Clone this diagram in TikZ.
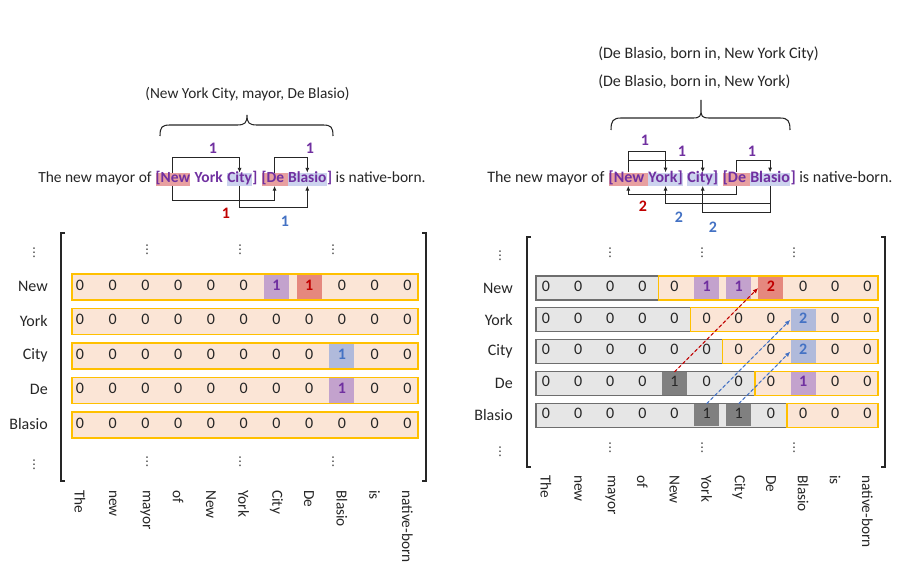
\documentclass[tikz,border=0pt]{standalone}
\usepackage{fontspec}
\setmainfont{Carlito}
\newfontfamily\dejavu{DejaVu Sans}
\usetikzlibrary{arrows.meta}
\definecolor{txt}{HTML}{262626}
\definecolor{entcol}{HTML}{7030A0}
\definecolor{redtxt}{HTML}{C00000}
\definecolor{bluetxt}{HTML}{4472C4}
\definecolor{hlred}{HTML}{E8A0A0}
\definecolor{hlblue}{HTML}{CCD3EE}
\definecolor{orfill}{HTML}{FBE5D6}
\definecolor{gold}{HTML}{FFC000}
\definecolor{grfill}{HTML}{E6E6E6}
\definecolor{grline}{HTML}{6E6E6E}
\definecolor{darkcell}{HTML}{808080}
\definecolor{purcell}{HTML}{C3A2CD}
\definecolor{redcell}{HTML}{E5887E}
\definecolor{bluecell}{HTML}{B0BADB}
\newcommand\mkhl[1]{\expandafter\def\csname #1\endcsname{}}
\newcommand\wsp{\ \null}
\mkhl{hlL-0-6}\mkhl{hlL-0-7}\mkhl{hlL-2-8}\mkhl{hlL-3-8}
\mkhl{hlR-0-5}\mkhl{hlR-0-6}\mkhl{hlR-0-7}\mkhl{hlR-1-8}\mkhl{hlR-2-8}
\mkhl{hlR-3-4}\mkhl{hlR-3-8}\mkhl{hlR-4-5}\mkhl{hlR-4-6}
\begin{document}
\begin{tikzpicture}[x=0.75pt,y=-0.75pt, font=\fontsize{11.5}{14}\selectfont, text=txt,
 sent/.style={anchor=base west, inner sep=0pt, text height=7.8pt, text depth=2pt, font=\fontsize{12}{14}\selectfont},
 sentL/.style={anchor=base west, inner sep=0pt, text height=7.6pt, text depth=2pt, font=\fontsize{11.6}{14}\selectfont},
 ent/.style={text=entcol, font=\fontsize{12}{14}\selectfont\bfseries},
 entL/.style={text=entcol, font=\fontsize{11.6}{14}\selectfont\bfseries},
 conn/.style={draw=txt, line width=0.6pt, -{Latex[length=3.5pt,width=3pt]}},
 num/.style={font=\fontsize{12}{14}\selectfont\bfseries, inner sep=0pt},
 bracestyle/.style={draw=txt, line width=0.8pt},
 bracket/.style={draw=txt, line width=1pt},
 vdot/.style={font=\dejavu\fontsize{9}{10}\selectfont, inner sep=0pt, text=txt},
 lab/.style={anchor=east, inner sep=0pt, font=\fontsize{12}{14}\selectfont},
 collab/.style={rotate=-90, anchor=west, inner sep=0pt},
 cellL/.style={minimum width=18.75pt, minimum height=18.4pt, inner sep=0pt, text height=7.5pt, text depth=2.5pt, font=\fontsize{12}{14}\selectfont},
 cellR/.style={minimum width=18.75pt, minimum height=16.9pt, inner sep=0pt, text height=7.5pt, text depth=2.5pt, font=\fontsize{12}{14}\selectfont},
 hl/.style={font=\fontsize{12}{14}\selectfont\bfseries},
 obox/.style={fill=orfill, draw=gold, line width=1pt},
 gbox/.style={fill=grfill, draw=grline, line width=1pt},
 dash arrow/.style={line width=0.8pt, dash pattern=on 2.5pt off 1.8pt, -{Latex[length=4pt,width=3.5pt]}}
]
\useasboundingbox (0,0) rectangle (905,566);

% ---------------- LEFT: triple, brace, sentence ----------------
\node[anchor=base, inner sep=0pt] (t1) at (247.5,98.5) {(New York City, mayor, De Blasio)};
\draw[bracestyle] (160,136) .. controls (160,127) and (162,125) .. (170,125) -- (237,125)
  .. controls (245,125) and (247,123) .. (247,115)
  .. controls (247,123) and (249,125) .. (257,125) -- (323,125)
  .. controls (331,125) and (333,127) .. (333,136);

\node[sentL] (l0) at (38,183) {The new mayor of\wsp};
\node[sentL, entL, fill=hlred] (lNew) at (l0.base east) {[New};
\node[sentL] (ls1) at (lNew.base east) {\wsp};
\node[sentL, entL] (lYork) at (ls1.base east) {York};
\node[sentL] (ls2) at (lYork.base east) {\wsp};
\node[sentL, entL, fill=hlblue] (lCity) at (ls2.base east) {City};
\node[sentL, entL] (lrb) at (lCity.base east) {]\wsp};
\node[sentL, entL, fill=hlred] (lDe) at (lrb.base east) {[De\wsp};
\node[sentL, entL, fill=hlblue] (lBl) at (lDe.base east) {Blasio};
\node[sentL] (l9) at (lBl.base east) {\textcolor{entcol}{\bfseries ]} is native-born.};

\draw[conn] (lNew.north) -- (lNew.north |- 0,157) -| (lCity.north);
\draw[conn] (lDe.north) -- (lDe.north |- 0,157) -| (lBl.north);
\draw[conn] (lNew.south) -- (lNew.south |- 0,200) -| (lDe.south);
\draw[conn] (lCity.south) -- (lCity.south |- 0,207) -| (lBl.south);
\node[num, text=entcol] (ln1) at (213,148) {1};
\node[num, text=entcol] (ln2) at (310,148) {1};
\node[num, text=redtxt] (ln3) at (226,213) {1};
\node[num, text=bluetxt] (ln4) at (285,221) {1};

% ---------------- RIGHT: triples, brace, sentence ----------------
\node[anchor=base west, inner sep=0pt, font=\fontsize{12}{14}\selectfont] (t2) at (598,58.5) {(De Blasio, born in, New York City)};
\node[anchor=base west, inner sep=0pt, font=\fontsize{12}{14}\selectfont] (t3) at (598,86.5) {(De Blasio, born in, New York)};
\draw[bracestyle] (611,130) .. controls (611,121) and (613,118) .. (621,118) -- (693,118)
  .. controls (700,118) and (701,116) .. (701,110) -- (701,100) -- (701,110)
  .. controls (701,116) and (702,118) .. (709,118) -- (780,118)
  .. controls (788,118) and (790,121) .. (790,130);

\node[sent] (r0) at (487,183) {The new mayor of\wsp};
\node[sent, ent, fill=hlred] (rNew) at (r0.base east) {[New\wsp};
\node[sent, ent, fill=hlblue] (rYork) at (rNew.base east) {York]};
\node[sent] (rs1) at (rYork.base east) {\wsp};
\node[sent, ent, fill=hlblue] (rCity) at (rs1.base east) {City]};
\node[sent] (rs2) at (rCity.base east) {\wsp};
\node[sent, ent, fill=hlred] (rDe) at (rs2.base east) {[De\wsp};
\node[sent, ent, fill=hlblue] (rBl) at (rDe.base east) {Blasio};
\node[sent] (r9) at (rBl.base east) {\textcolor{entcol}{\bfseries ]} is native-born.};

\draw[conn] (rNew.north) -- (rNew.north |- 0,151) -| (rYork.north);
\draw[conn] (rNew.north |- 0,160) -| (rCity.north);
\draw[conn] (rDe.north) -- (rDe.north |- 0,160) -| (rBl.north);
\draw[conn] (rDe.south) -- (rDe.south |- 0,194) -| (rNew.south);
\draw[conn] (rBl.south) -- (rBl.south |- 0,203) -| (rYork.south);
\draw[conn] (rBl.south) -- (rBl.south |- 0,212) -| (rCity.south);
\node[num, text=entcol] (rn1) at (645,140) {1};
\node[num, text=entcol] (rn2) at (682,151) {1};
\node[num, text=entcol] (rn3) at (752,151) {1};
\node[num, text=redtxt] (rn4) at (643,206) {2};
\node[num, text=bluetxt] (rn5) at (679,217) {2};
\node[num, text=bluetxt] (rn6) at (713,227) {2};

% ---------------- LEFT MATRIX ----------------
\draw[bracket] (65,233) -- (61,233) -- (61,481) -- (65,481);
\draw[bracket] (422,233) -- (426,233) -- (426,481) -- (422,481);
\foreach \r/\lab in {0/New,1/York,2/City,3/De,4/Blasio}{
  \pgfmathsetmacro\yy{287+34.5*\r}
  \draw[obox] (72,{\yy-13}) rectangle (418,{\yy+13});
  \node[lab] (LL-\r) at (48,{\yy-1}) {\lab};
  \foreach \c in {0,...,10}{
    \pgfmathsetmacro\xx{80+32.73*\c}
    \ifcsname hlL-\r-\c\endcsname\else
      \node[cellL] (L-\r-\c) at (\xx,\yy) {0};
    \fi
  }
}
\node[cellL, fill=purcell, text=entcol, hl] (L-0-6) at (276.38,287) {1};
\node[cellL, fill=redcell, text=redtxt, hl] (L-0-7) at (309.11,287) {1};
\node[cellL, fill=bluecell, text=bluetxt, hl] (L-2-8) at (341.84,356) {1};
\node[cellL, fill=purcell, text=entcol, hl] (L-3-8) at (341.84,390.5) {1};
\foreach \c/\w in {0/The,1/new,2/mayor,3/of,4/New,5/York,6/City,7/De,8/Blasio,9/is,10/native-born}{
  \node[collab] (LC-\c) at ({80+32.73*\c},490) {\w};
}
\node[vdot] (LDa) at (34,253) {⋮};
\node[vdot] (LDb) at (147,250) {⋮};
\node[vdot] (LDc) at (240,250) {⋮};
\node[vdot] (LDd) at (333,250) {⋮};
\node[vdot] (LDe) at (34,465) {⋮};
\node[vdot] (LDf) at (147,462) {⋮};
\node[vdot] (LDg) at (240,462) {⋮};
\node[vdot] (LDh) at (333,462) {⋮};

% ---------------- RIGHT MATRIX ----------------
\draw[bracket] (531,237) -- (527,237) -- (527,467) -- (531,467);
\draw[bracket] (881,237) -- (885,237) -- (885,467) -- (881,467);
\foreach \r/\lab in {0/New,1/York,2/City,3/De,4/Blasio}{
  \pgfmathsetmacro\yy{288+31.8*\r}
  \pgfmathsetmacro\bb{546+32.13*(3.5+\r)}
  \draw[gbox] (536,{\yy-12}) rectangle (\bb,{\yy+12});
  \draw[obox] (\bb,{\yy-12}) rectangle (878,{\yy+12});
  \node[lab] (RL-\r) at (513,\yy) {\lab};
  \foreach \c in {0,...,10}{
    \pgfmathsetmacro\xx{546+32.13*\c}
    \ifcsname hlR-\r-\c\endcsname\else
      \node[cellR] (R-\r-\c) at (\xx,\yy) {0};
    \fi
  }
}
\node[cellR, fill=purcell, text=entcol, hl] (R-0-5) at (706.65,288) {1};
\node[cellR, fill=purcell, text=entcol, hl] (R-0-6) at (738.78,288) {1};
\node[cellR, fill=redcell, text=redtxt, hl] (R-0-7) at (770.91,288) {2};
\node[cellR, fill=bluecell, text=bluetxt, hl] (R-1-8) at (803.04,319.8) {2};
\node[cellR, fill=bluecell, text=bluetxt, hl] (R-2-8) at (803.04,351.6) {2};
\node[cellR, fill=darkcell] (R-3-4) at (674.52,383.4) {1};
\node[cellR, fill=purcell, text=entcol, hl] (R-3-8) at (803.04,383.4) {1};
\node[cellR, fill=darkcell] (R-4-5) at (706.65,415.2) {1};
\node[cellR, fill=darkcell] (R-4-6) at (738.78,415.2) {1};

\draw[dash arrow, draw=redtxt, fill=redtxt] (R-3-4.north) -- (R-0-7.west);
\draw[dash arrow, draw=bluetxt, fill=bluetxt] (R-4-5.north) -- (R-1-8.west);
\draw[dash arrow, draw=bluetxt, fill=bluetxt] (R-4-6.north) -- (R-2-8.west);

\foreach \c/\w in {0/The,1/new,2/mayor,3/of,4/New,5/York,6/City,7/De,8/Blasio,9/is,10/native-born}{
  \node[collab] (RC-\c) at ({546+32.13*\c},475) {\w};
}
\node[vdot] (RDa) at (500,256) {⋮};
\node[vdot] (RDb) at (610,253) {⋮};
\node[vdot] (RDc) at (702,253) {⋮};
\node[vdot] (RDd) at (794,253) {⋮};
\node[vdot] (RDe) at (500,452) {⋮};
\node[vdot] (RDf) at (610,448) {⋮};
\node[vdot] (RDg) at (702,448) {⋮};
\node[vdot] (RDh) at (794,448) {⋮};
\end{tikzpicture}
\end{document}
